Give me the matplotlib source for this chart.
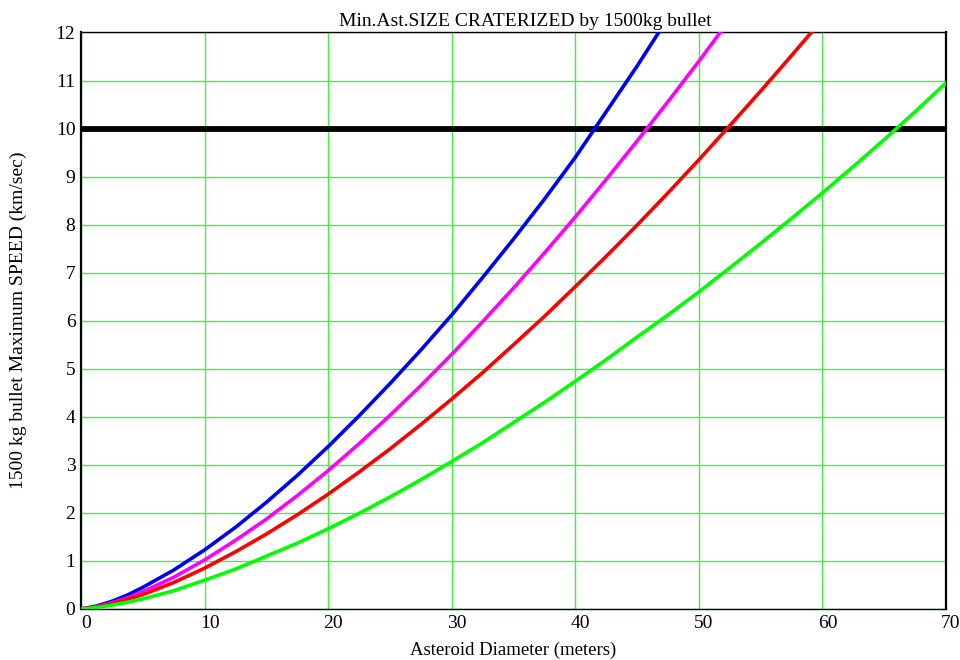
import numpy as np
import matplotlib
matplotlib.use('Agg')
import matplotlib.pyplot as plt
import matplotlib.transforms as mtransforms

plt.rcParams['font.family'] = ['Liberation Serif', 'DejaVu Serif']

# asteroid diameter (m)
diam = [0, 1.25, 2.5, 3.75, 5, 7.5, 10, 12.5, 15, 17.5, 20, 22.5, 25, 27.5, 30, 32.5, 35,
        37.5, 40, 42.5, 45, 47.5, 50, 52.5, 55, 57.5, 60, 62.5, 65, 67.5, 70]

# max bullet speed (km/sec) for each curve
speed_blue = [0, 0.06, 0.16, 0.29, 0.45, 0.81, 1.23, 1.70, 2.22, 2.78, 3.38, 4.02, 4.69,
              5.39, 6.12, 6.90, 7.70, 8.53, 9.40, 10.35, 11.30, 12.30]
speed_magenta = [0, 0.045, 0.13, 0.23, 0.36, 0.66, 1.02, 1.43, 1.87, 2.36, 2.88, 3.44,
                 4.03, 4.65, 5.30, 5.98, 6.68, 7.41, 8.16, 8.94, 9.74, 10.56, 11.40, 12.27]
speed_red = [0, 0.04, 0.11, 0.20, 0.30, 0.55, 0.85, 1.19, 1.56, 1.96, 2.39, 2.85, 3.33,
             3.84, 4.37, 4.92, 5.50, 6.09, 6.71, 7.34, 7.99, 8.66, 9.35, 10.06, 10.78,
             11.52, 12.27]
speed_green = [0, 0.03, 0.08, 0.14, 0.21, 0.38, 0.60, 0.83, 1.10, 1.37, 1.67, 1.99, 2.33,
               2.69, 3.07, 3.46, 3.88, 4.30, 4.74, 5.19, 5.66, 6.12, 6.60, 7.10, 7.61,
               8.13, 8.66, 9.21, 9.77, 10.35, 10.95]
speed_limit = 10

fig = plt.figure(figsize=(9.6, 6.6), dpi=100)
ax = fig.add_axes([0.0844, 0.0773, 0.9010, 0.8735])

ax.grid(True, color='#44ee44', linewidth=1.0)
ax.set_axisbelow(True)

ax.axhline(speed_limit, color='black', linewidth=4.2, zorder=3)
ax.plot(diam[:len(speed_blue)], speed_blue, color='#0000ff', linewidth=2.6, zorder=4)
ax.plot(diam[:len(speed_magenta)], speed_magenta, color='#ff00ff', linewidth=2.6, zorder=4)
ax.plot(diam[:len(speed_red)], speed_red, color='#ff0000', linewidth=2.6, zorder=4)
ax.plot(diam, speed_green, color='#00ff00', linewidth=2.6, zorder=4)

ax.set_xlim(0, 70)
ax.set_ylim(0, 12)
ax.set_xticks(np.arange(0, 71, 10))
ax.set_yticks(np.arange(0, 13, 1))
ax.tick_params(length=0, labelsize=14, pad=4)
offset = mtransforms.ScaledTranslation(5 / 100, 0, fig.dpi_scale_trans)
for lbl in ax.get_xticklabels():
    lbl.set_transform(lbl.get_transform() + offset)

for side in ['left', 'right']:
    ax.spines[side].set_linewidth(1.6)
for side in ['top', 'bottom']:
    ax.spines[side].set_linewidth(1.0)

ax.set_title('Min.Ast.SIZE CRATERIZED by 1500kg bullet', fontsize=14, x=0.514, pad=5)
ax.set_xlabel('Asteroid Diameter (meters)', fontsize=13.5, labelpad=7)
ax.set_ylabel('1500 kg bullet Maximum SPEED (km/sec)', fontsize=14)
ax.yaxis.set_label_coords(-0.062, 0.5)

plt.savefig('out.png', dpi=100)
